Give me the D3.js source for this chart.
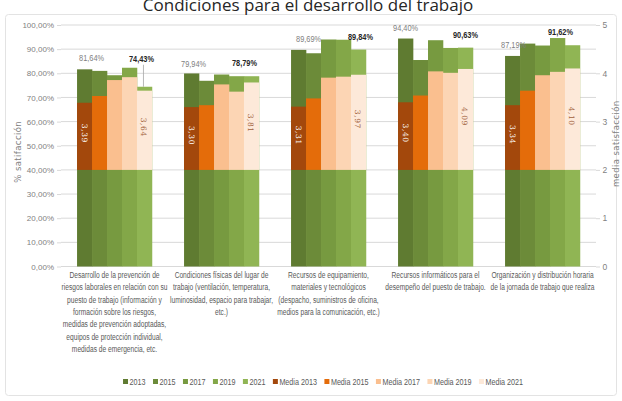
<!DOCTYPE html>
<html>
<head>
<meta charset="utf-8">
<script src="https://cdn.jsdelivr.net/npm/d3@7"></script>
<style>
  body { margin: 0; background: #fff; }
  svg { display: block; }
</style>
</head>
<body>
<svg id="chart" width="622" height="401"></svg>
<script>
// ---- data ----
const years = ["2013", "2015", "2017", "2019", "2021"];
const categories = [
  ["Desarrollo de la prevención de", "riesgos laborales en relación con su", "puesto de trabajo (información y",
   "formación sobre los riesgos,", "medidas de prevención adoptadas,", "equipos de protección individual,",
   "medidas de emergencia, etc."],
  ["Condiciones físicas del lugar de", "trabajo (ventilación, temperatura,", "luminosidad, espacio para trabajar,", "etc.)"],
  ["Recursos de equipamiento,", "materiales y tecnológicos", "(despacho, suministros de oficina,", "medios para la comunicación, etc.)"],
  ["Recursos informáticos para el", "desempeño del puesto de trabajo."],
  ["Organización y distribución horaria", "de la jornada de trabajo que realiza"]
];
// % satisfacción per year (left axis)
const pct2013 = [81.64, 79.94, 89.69, 94.40, 87.19];
const pct2015 = [81.0, 76.9, 88.3, 85.5, 92.3];
const pct2017 = [79.2, 79.5, 94.0, 93.7, 91.5];
const pct2019 = [82.3, 78.8, 93.9, 90.5, 94.6];
const pct2021 = [74.43, 78.79, 89.84, 90.63, 91.62];
// media satisfacción per year (right axis)
const media2013 = [3.39, 3.30, 3.31, 3.40, 3.34];
const media2015 = [3.53, 3.34, 3.48, 3.54, 3.64];
const media2017 = [3.86, 3.77, 3.91, 4.04, 3.96];
const media2019 = [3.92, 3.62, 3.93, 4.01, 4.03];
const media2021 = [3.64, 3.81, 3.97, 4.09, 4.10];
const pctTicks = [0, 10, 20, 30, 40, 50, 60, 70, 80, 90, 100];
const mediaTicks = [0, 1, 2, 3, 4, 5];
const mediaFloor = 2;
const title = "Condiciones para el desarrollo del trabajo";

const pctSeries = [pct2013, pct2015, pct2017, pct2019, pct2021];
const mediaSeries = [media2013, media2015, media2017, media2019, media2021];

// ---- styling ----
const greens = ["#5f7b31", "#6c8b39", "#779a40", "#83a748", "#90b554"];
const oranges = ["#a3480c", "#e46c0a", "#fabf8f", "#fcd5b4", "#fde9d9"];
const narrow = "'Liberation Sans Narrow', 'Liberation Sans', sans-serif";
const gridColor = "#d9d9d9";
const axisText = "#7f7f7f";

// label nudges (dx, dy) for the first / last percentage labels
const firstNudge = [[7, 0], [2, 2], [10, 0], [0, 0], [1, 0]];
const lastNudge = [[-3, -15], [-7, 0], [2, 0], [0, 0], [-12, 0]];

const svg = d3.select("#chart");
const plot = { left: 61, right: 596, top: 25, bottom: 266.5 };

const x0 = d3.scaleBand().domain(d3.range(categories.length))
  .range([plot.left, plot.right]).paddingInner(0.3).paddingOuter(0.15);
const x1 = d3.scaleBand().domain(years).range([0, x0.bandwidth()]).padding(0);
const yL = d3.scaleLinear().domain([0, 100]).range([plot.bottom, plot.top]);
const yR = d3.scaleLinear().domain([0, 5]).range([plot.bottom, plot.top]);

const locale = d3.formatLocale({ decimal: ",", thousands: ".", grouping: [3], currency: ["", "€"] });
const fPct = v => locale.format(".2f")(v) + "%";
const fMed = locale.format(".2f");

// chart frame and title
svg.append("rect").attr("x", 5.5).attr("y", 14.5).attr("width", 611).attr("height", 381)
  .attr("rx", 3).attr("fill", "none").attr("stroke", "#e3e3e3");
svg.append("text").attr("x", 308).attr("y", 11).attr("text-anchor", "middle")
  .attr("font-family", "'Open Sans', sans-serif").attr("font-size", 17).attr("fill", "#262626")
  .text(title);

// gridlines
svg.append("g").selectAll("line").data(pctTicks).join("line")
  .attr("x1", plot.left).attr("x2", plot.right)
  .attr("y1", d => yL(d)).attr("y2", d => yL(d))
  .attr("stroke", gridColor).attr("stroke-width", 1);

// left axis
const gL = svg.append("g").attr("transform", `translate(${plot.left},0)`)
  .call(d3.axisLeft(yL).tickValues(pctTicks).tickFormat(d => fPct(d)).tickSize(4).tickPadding(3));
gL.select(".domain").remove();
gL.selectAll(".tick line").attr("stroke", gridColor);
gL.selectAll(".tick text").attr("font-family", narrow).attr("font-size", 8).attr("fill", axisText);

// right axis
const gR = svg.append("g").attr("transform", `translate(${plot.right},0)`)
  .call(d3.axisRight(yR).tickValues(mediaTicks).tickFormat(d3.format("d")).tickSize(4).tickPadding(2.5));
gR.select(".domain").remove();
gR.selectAll(".tick line").attr("stroke", gridColor);
gR.selectAll(".tick text").attr("font-family", narrow).attr("font-size", 8.5).attr("fill", axisText);

// axis titles
svg.append("text").attr("transform", `translate(21,${(plot.top + plot.bottom) / 2 + 6}) rotate(-90)`)
  .attr("text-anchor", "middle").attr("font-family", "'DejaVu Sans', sans-serif").attr("font-size", 8.5)
  .attr("fill", axisText).attr("letter-spacing", 0.4).text("% satifacción");
svg.append("text").attr("transform", `translate(618.5,${(plot.top + plot.bottom) / 2 - 2}) rotate(-90)`)
  .attr("text-anchor", "middle").attr("font-family", "'DejaVu Sans', sans-serif").attr("font-size", 8.5)
  .attr("fill", axisText).attr("letter-spacing", 0.4).text("media satisfacción");

// bars
const groups = svg.append("g").selectAll("g").data(categories).join("g")
  .attr("transform", (d, i) => `translate(${x0(i)},0)`);

groups.each(function (cat, i) {
  const g = d3.select(this);
  years.forEach((yr, j) => {
    const p = pctSeries[j][i];
    g.append("rect").attr("x", x1(yr)).attr("width", x1.bandwidth() + 0.3)
      .attr("y", yL(p)).attr("height", yL(0) - yL(p)).attr("fill", greens[j]);
  });
  years.forEach((yr, j) => {
    const m = mediaSeries[j][i];
    g.append("rect").attr("x", x1(yr)).attr("width", x1.bandwidth() + 0.3)
      .attr("y", yR(m)).attr("height", yR(mediaFloor) - yR(m)).attr("fill", oranges[j]);
  });
  // media value labels (first and last year), rotated inside the bar
  [[0, "#ffffff"], [4, "#a0603a"]].forEach(([j, col]) => {
    const m = mediaSeries[j][i];
    const cx = x1(years[j]) + x1.bandwidth() / 2;
    const cy = (yR(m) + yR(mediaFloor)) / 2 - 3;
    g.append("text").attr("transform", `translate(${cx - 3},${cy}) rotate(90)`)
      .attr("text-anchor", "middle").attr("font-family", "'DejaVu Serif', serif")
      .attr("font-size", 7.5).attr("letter-spacing", 0.6).attr("fill", col)
      .text(fMed(m));
  });
  // percentage labels for first and last year
  const p0 = pctSeries[0][i];
  const c0 = x1(years[0]) + x1.bandwidth() / 2;
  g.append("text").attr("transform", `translate(${c0 + firstNudge[i][0]},${yL(p0) - 8 + firstNudge[i][1]}) scale(0.82,1)`)
    .attr("text-anchor", "middle").attr("font-family", narrow).attr("font-size", 9)
    .attr("fill", "#808080").text(fPct(p0));
  const p4 = pctSeries[4][i];
  const c4 = x1(years[4]) + x1.bandwidth() / 2;
  const ly = yL(p4) - 10 + lastNudge[i][1];
  g.append("text").attr("transform", `translate(${c4 + lastNudge[i][0]},${ly}) scale(0.82,1)`)
    .attr("text-anchor", "middle").attr("font-family", narrow).attr("font-size", 9)
    .attr("font-weight", "bold").attr("fill", "#262626").text(fPct(p4));
  if (yL(p4) - ly > 20) {
    g.append("line").attr("x1", c4 - 1).attr("x2", c4 - 1).attr("y1", ly + 3).attr("y2", yL(p4))
      .attr("stroke", "#a6a6a6").attr("stroke-width", 0.8);
  }
});

// category labels
groups.each(function (lines, i) {
  const g = d3.select(this);
  const cx = x0.bandwidth() / 2;
  lines.forEach((ln, k) => {
    g.append("text").attr("transform", `translate(${cx},${278 + k * 12.3}) scale(0.7,1)`)
      .attr("text-anchor", "middle").attr("font-family", narrow).attr("font-size", 9.5)
      .attr("fill", "#595959").text(ln);
  });
});

// legend
const legendItems = years.map((y, j) => ({ label: y, color: greens[j] }))
  .concat(years.map((y, j) => ({ label: "Media " + y, color: oranges[j] })));
const leg = svg.append("g");
let cursor = 0;
const legScale = 0.8;
legendItems.forEach(it => {
  const item = leg.append("g").attr("transform", `translate(${cursor},0)`);
  item.append("rect").attr("x", 0).attr("y", -3).attr("width", 5).attr("height", 5).attr("fill", it.color);
  const t = item.append("text").attr("transform", `translate(6.5,2.5) scale(${legScale},1)`)
    .attr("font-family", narrow).attr("font-size", 9).attr("fill", "#595959").text(it.label);
  cursor += 6.5 + t.node().getComputedTextLength() * legScale + 7.5;
});
const legW = cursor - 7.5;
leg.attr("transform", `translate(${323 - legW / 2},382)`);
</script>
</body>
</html>
